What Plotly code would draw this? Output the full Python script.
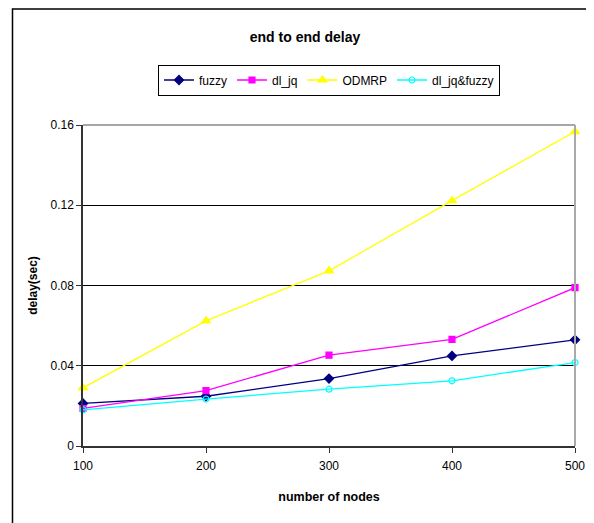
import plotly.graph_objects as go

nodes = [100, 200, 300, 400, 500]
fuzzy = [0.0212, 0.0248, 0.0336, 0.0449, 0.0529]
dl_jq = [0.0187, 0.0276, 0.0453, 0.0531, 0.0789]
odmrp = [0.0290, 0.0624, 0.0873, 0.1223, 0.1567]
dl_jq_fuzzy = [0.0180, 0.0234, 0.0283, 0.0325, 0.0416]

y_ticks = [0, 0.04, 0.08, 0.12, 0.16]
y_ticktext = ["0", "0.04", "0.08", "0.12", "0.16"]
x_ticks = [100, 200, 300, 400, 500]

FONT = "Liberation Sans, Arial, sans-serif"

fig = go.Figure()
series = [
    ("fuzzy", fuzzy, "#000080", "diamond", 7),
    ("dl_jq", dl_jq, "#FF00FF", "square", 6),
    ("ODMRP", odmrp, "#FFFF00", "triangle-up", 8),
    ("dl_jq&fuzzy", dl_jq_fuzzy, "#00FFFF", "circle-open", 6),
]
for name, vals, color, sym, size in series:
    fig.add_trace(go.Scatter(
        x=nodes, y=vals, name=name, mode="lines+markers",
        line=dict(color=color, width=1.3),
        marker=dict(symbol=sym, size=size, color=color, line=dict(color=color, width=1.2)),
        cliponaxis=False,
    ))

# page body adds an 8px offset, so the figure is drawn 8px smaller
OFF = 8
W, H = 594 - OFF, 523 - OFF
L, T = 83 - OFF, 125 - OFF
R = 594 - 575
B = 523 - 446
pw = W - L - R
ph = H - T - B

def px_x(x):
    return (x - OFF - L) / pw

def px_y(y):
    return (H - B - (y - OFF)) / ph

fig.update_layout(
    width=W, height=H,
    margin=dict(l=L, r=R, t=T, b=B, autoexpand=False),
    paper_bgcolor="white", plot_bgcolor="white",
    font=dict(family=FONT, size=12, color="black"),
    title=dict(text="<b>end to end delay</b>", x=(305 - OFF) / W, xanchor="center",
               y=1 - (37 - OFF) / H, yanchor="middle", font=dict(size=14, family=FONT)),
    legend=dict(orientation="h", x=0.5, xanchor="center", y=px_y(80), yanchor="middle",
                bordercolor="black", borderwidth=1, bgcolor="white",
                font=dict(size=12, family=FONT)),
    xaxis=dict(range=[100, 500], tickvals=x_ticks, showgrid=False, zeroline=False,
               showline=True, linecolor="#333333", linewidth=1.5,
               ticks="outside", ticklen=5, tickcolor="#333333", ticklabelstandoff=3,
               title=dict(text="<b>number of nodes</b>", font=dict(size=12.5, family=FONT), standoff=20),
               tickfont=dict(size=12)),
    yaxis=dict(range=[0, 0.16], tickvals=y_ticks, ticktext=y_ticktext, showgrid=True,
               gridcolor="black", gridwidth=1, zeroline=False,
               showline=True, linecolor="#333333", linewidth=1.5,
               ticks="outside", ticklen=5, tickcolor="#333333",
               title=dict(text="<b>delay(sec)</b>", font=dict(size=12, family=FONT), standoff=10),
               tickfont=dict(size=12)),
    showlegend=True,
)

# plot-area frame (top and right in gray)
fig.add_shape(type="line", xref="paper", yref="paper", x0=0, x1=1, y0=1, y1=1,
              line=dict(color="#888888", width=1.5), layer="above")
fig.add_shape(type="line", xref="paper", yref="paper", x0=1, x1=1, y0=0, y1=1,
              line=dict(color="#aaaaaa", width=2), layer="above")
# outer chart border
fig.add_shape(type="rect", xref="paper", yref="paper",
              x0=px_x(12.5), x1=px_x(640), y0=px_y(560), y1=px_y(9),
              line=dict(color="black", width=1.5), fillcolor="rgba(0,0,0,0)", layer="below")

fig.write_html("out.html")
